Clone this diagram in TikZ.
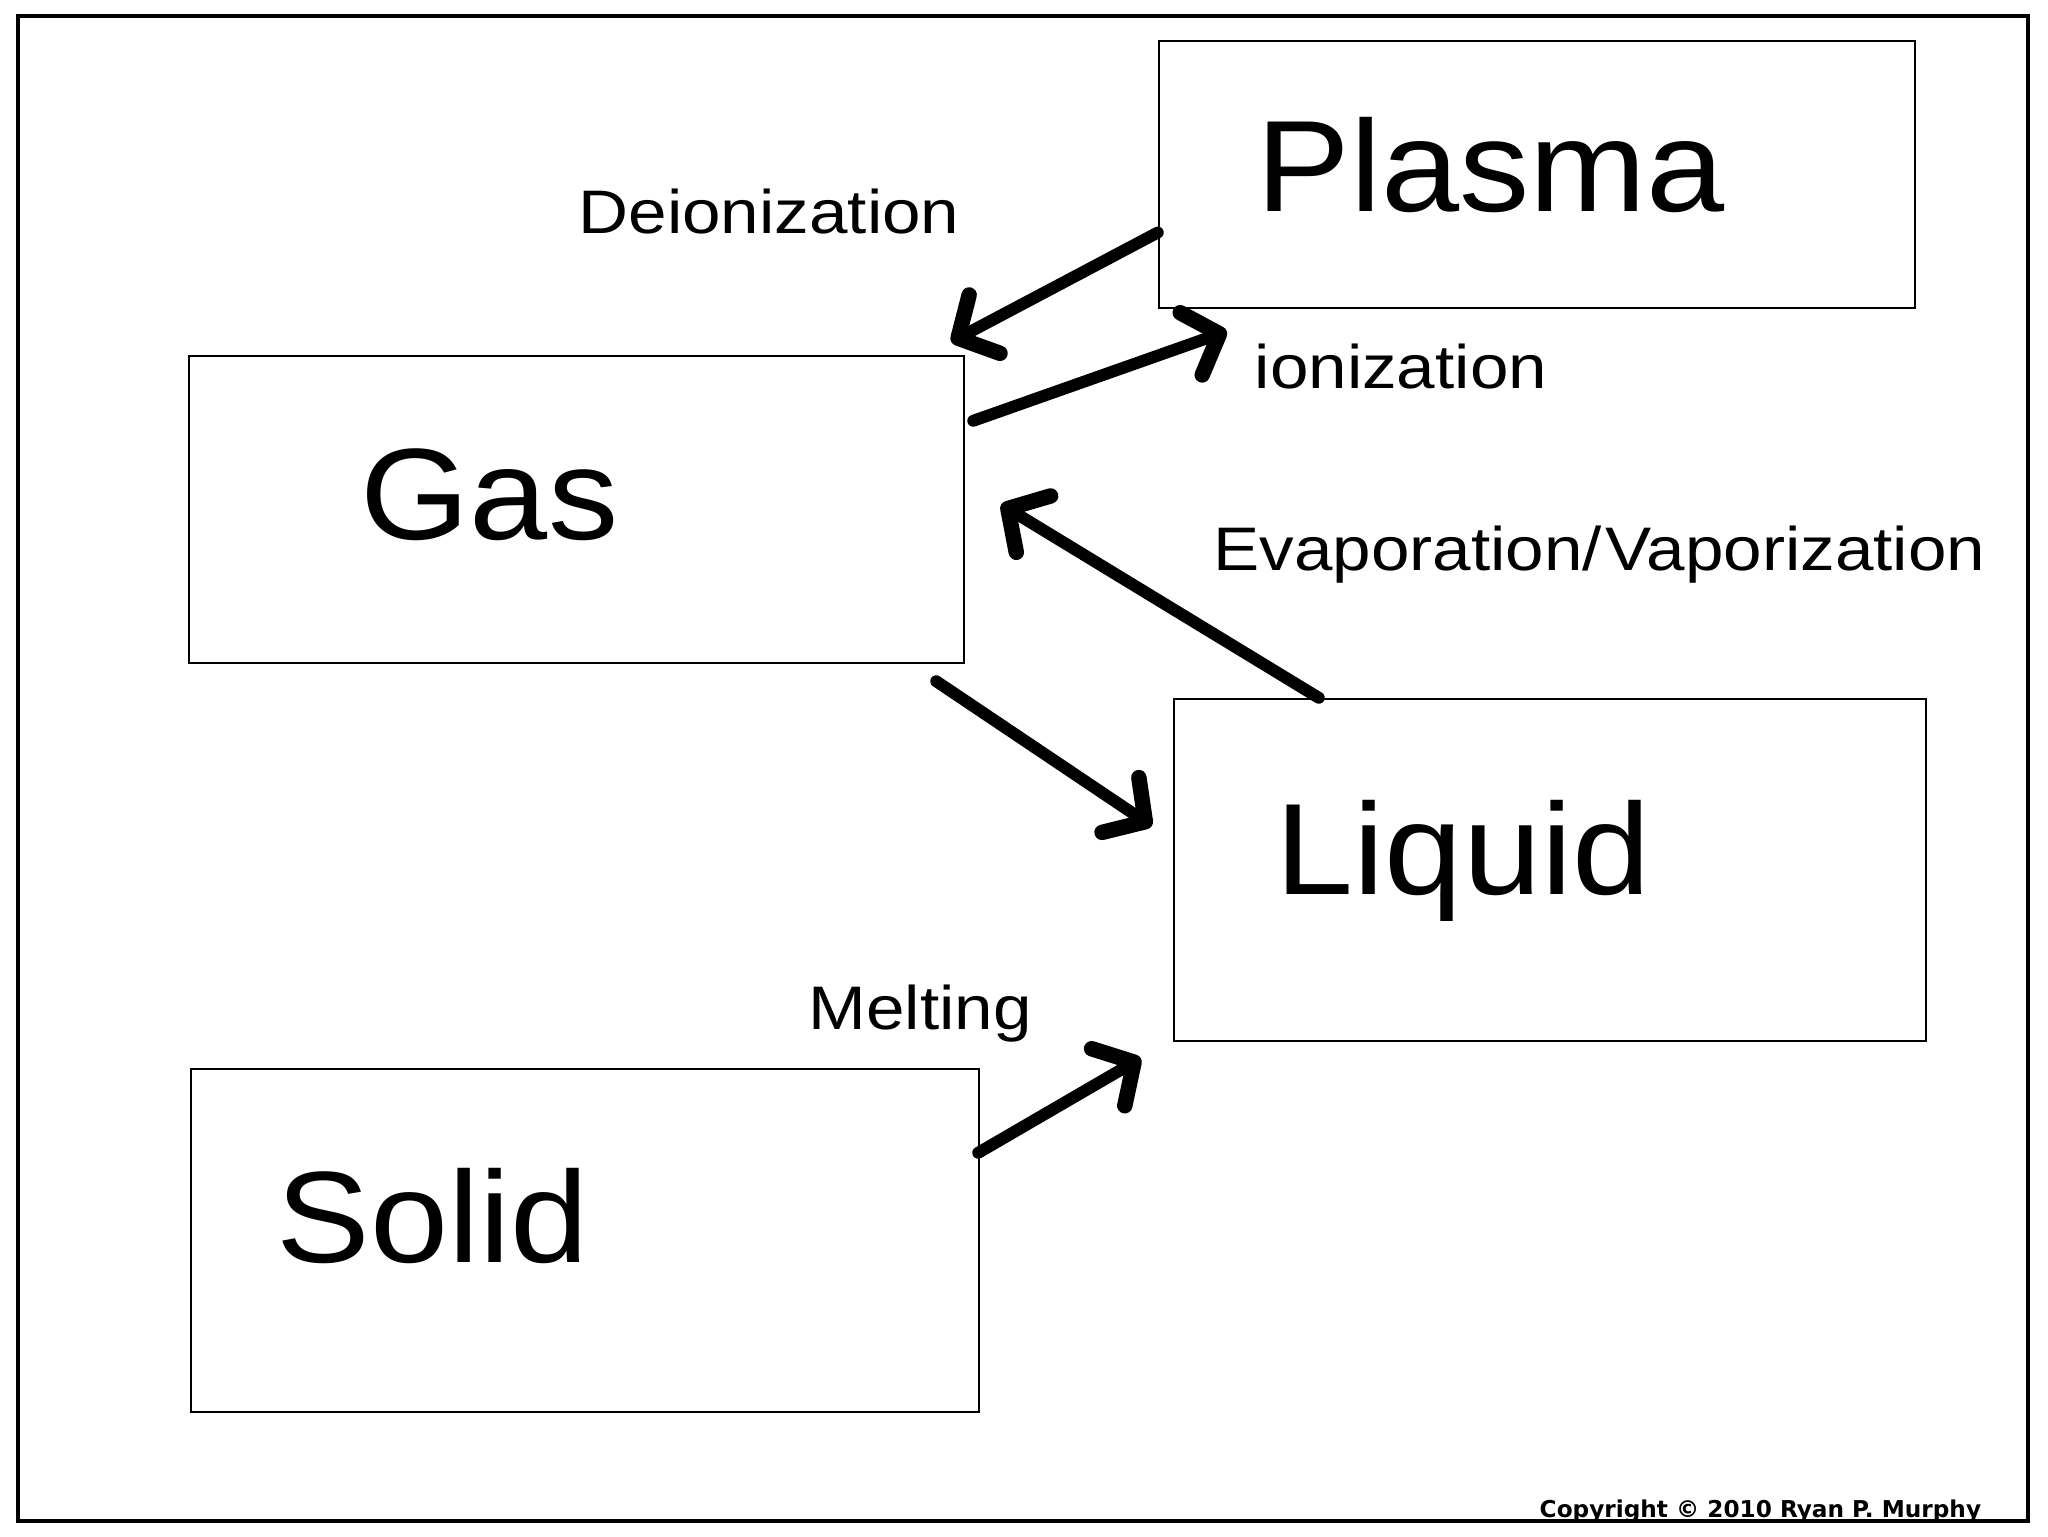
\documentclass[tikz,border=0pt]{standalone}
\usepackage{fontspec}
\setmainfont[FakeStretch=1.125]{Liberation Sans}
\newfontfamily\phasefont[FakeStretch=1.08]{Liberation Sans}
\newfontfamily\copyfont{DejaVu Sans}
\usetikzlibrary{arrows.meta, calc, positioning}

\tikzset{
  phase box/.style={draw, line width=0.7pt, inner sep=0pt},
  phase name/.style={anchor=base west, inner sep=0pt, font=\phasefont\fontsize{37}{40}\selectfont},
  change label/.style={anchor=base west, inner sep=0pt, font=\fontsize{17.5}{20}\selectfont},
  change arrow/.style={line width=3.4pt, line cap=round,
    -{Straight Barb[length=3mm, width=6.6mm, round, line width=4.4pt]}}
}

\begin{document}
\begin{tikzpicture}[x=0.1mm, y=-0.1mm]
    \useasboundingbox (0,0) rectangle (2048,1536);
    % Outer frame
    \draw[line width=1.1pt] (18,16) rectangle (2028,1521);

    % Phase boxes
    \node[phase box, minimum width=75.6mm, minimum height=26.7mm] (plasma) at (1537,174.5) {};
    \node[phase box, minimum width=77.5mm, minimum height=30.7mm] (gas) at (576.5,509.5) {};
    \node[phase box, minimum width=75.2mm, minimum height=34.2mm] (liquid) at (1550,870) {};
    \node[phase box, minimum width=78.8mm, minimum height=34.3mm] (solid) at (585,1240.5) {};

    % Phase names
    \node[phase name] (plasma name) at (1256,211) {Plasma};
    \node[phase name] (gas name) at (360,539) {Gas};
    \node[phase name] (liquid name) at (1275,894) {Liquid};
    \node[phase name] (solid name) at (276,1262) {Solid};

    % Transitions
    \draw[change arrow] ($(plasma.west)+(0,58)$) -- ($(gas.north east)+(-14,-13)$);
    \draw[change arrow] ($(gas.north east)+(8,66)$) -- ($(plasma.south west)+(69,22)$);
    \draw[change arrow] ($(liquid.north west)+(146,0)$) -- ($(gas.east)+(36,-5)$);
    \draw[change arrow] ($(gas.south east)+(-29,17)$) -- ($(liquid.west)+(-21,-44)$);
    \draw[change arrow] ($(solid.north east)+(-2,85)$) -- ($(liquid.south west)+(-32,16)$);

    % Transition labels
    \node[change label] (deion label) at (578,233) {Deionization};
    \node[change label] (ion label) at (1254,388) {ionization};
    \node[change label] (evap label) at (1213,570) {Evaporation/\kern1pt Vaporization};
    \node[change label] (melt label) at (808,1029) {Melting};

    % Credit line
    \node[anchor=base west, inner sep=0pt, font=\copyfont\bfseries\fontsize{6.6}{8}\selectfont]
        (credit) at (1539,1517) {Copyright © 2010 Ryan P. Murphy};
\end{tikzpicture}
\end{document}
